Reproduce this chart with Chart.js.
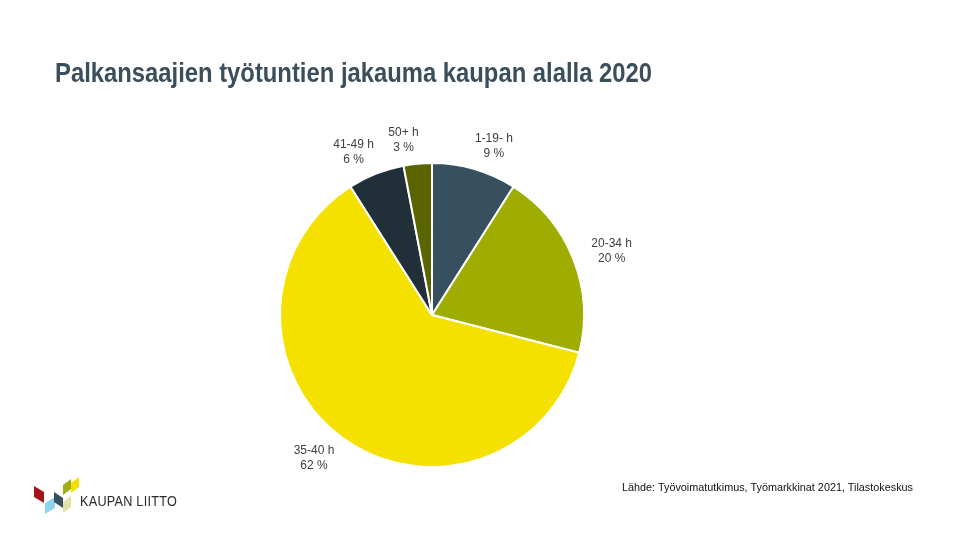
<!DOCTYPE html>
<html>
<head>
<meta charset="utf-8">
<script src="https://cdn.jsdelivr.net/npm/chart.js@4"></script>
<style>
    html, body { margin: 0; padding: 0; background: #fff; }
    #wrap { position: relative; width: 960px; height: 540px; overflow: hidden; font-family: "Liberation Sans", Arial, sans-serif; }
    #chart { position: absolute; left: 0; top: 0; }
    .fit { position: absolute; white-space: nowrap; transform-origin: 0 0; }
    #title { left: 55px; top: 57px; font-size: 28px; font-weight: bold; color: #3B4E5C; }
    #source { left: 622px; top: 481px; font-size: 11px; color: #111; }
    #brand { left: 80px; top: 492px; font-size: 15px; color: #2b2b2b; letter-spacing: 0.3px; }
    #logo { position: absolute; left: 30px; top: 474px; }
</style>
</head>
<body>
<div id="wrap">
    <canvas id="chart" width="960" height="540"></canvas>
    <div id="title" class="fit" data-w="597">Palkansaajien työtuntien jakauma kaupan alalla 2020</div>
    <div id="source" class="fit" data-w="291">Lähde: Työvoimatutkimus, Työmarkkinat 2021, Tilastokeskus</div>
    <svg id="logo" width="52" height="45" viewBox="0 0 52 45">
        <polygon points="4,12 14,18 14,29 4,23" fill="#A3131C"/>
        <polygon points="15,29 25,23 25,34 15,40" fill="#8ED3F0"/>
        <polygon points="24,18 33,24 33,34 24,28" fill="#3A5060"/>
        <polygon points="33,11 41,5 41,15 33,21" fill="#9FAE16"/>
        <polygon points="41,9 49,3 49,13 41,19" fill="#F3E000"/>
        <polygon points="33,28 41,22 41,33 33,39" fill="#E2E2A6"/>
    </svg>
    <div id="brand" class="fit" data-w="97">KAUPAN LIITTO</div>
</div>
<script>
const categories = ["1-19- h", "20-34 h", "35-40 h", "41-49 h", "50+ h"];
const shares = [9, 20, 62, 6, 3];
const sliceColors = ["#384F5F", "#9EAD00", "#F5E100", "#212F38", "#5B6500"];

// squeeze texts to the widths in the picture (narrow font in the original)
document.querySelectorAll(".fit").forEach(el => {
    const w = el.getBoundingClientRect().width;
    el.style.transform = `scaleX(${el.dataset.w / w})`;
});

const outsideLabels = {
    id: "outsideLabels",
    afterDatasetsDraw(chart) {
        const ctx = chart.ctx;
        const meta = chart.getDatasetMeta(0);
        ctx.save();
        ctx.font = "12px 'Liberation Sans', Arial, sans-serif";
        ctx.fillStyle = "#404040";
        ctx.textAlign = "center";
        ctx.textBaseline = "middle";
        meta.data.forEach((arc, i) => {
            const { x, y, startAngle, endAngle, outerRadius } = arc.getProps(["x", "y", "startAngle", "endAngle", "outerRadius"], true);
            const mid = (startAngle + endAngle) / 2;
            const c = Math.cos(mid), s = Math.sin(mid);
            const r = outerRadius + 12;
            const px = x + c * r;
            const py = y + s * r;
            const lines = [categories[i], shares[i] + " %"];
            const w = Math.max(...lines.map(t => ctx.measureText(t).width));
            const h = 30;
            // push label box outwards, a bit more sideways near the top/bottom
            const cx = px + c * (w / 2 + 8) + Math.sign(c) * 12 * (1 - Math.abs(c));
            const cy = py + s * (h / 2 - 3);
            ctx.fillText(lines[0], cx, cy - 7);
            ctx.fillText(lines[1], cx, cy + 8);
        });
        ctx.restore();
    }
};

new Chart(document.getElementById("chart"), {
    type: "pie",
    data: {
        labels: categories,
        datasets: [{
            data: shares,
            backgroundColor: sliceColors,
            borderColor: "#ffffff",
            borderWidth: 2
        }]
    },
    options: {
        responsive: false,
        animation: false,
        layout: { padding: { left: 279, right: 375, top: 162, bottom: 72 } },
        plugins: {
            legend: { display: false },
            tooltip: { enabled: false }
        }
    },
    plugins: [outsideLabels]
});
</script>
</body>
</html>
